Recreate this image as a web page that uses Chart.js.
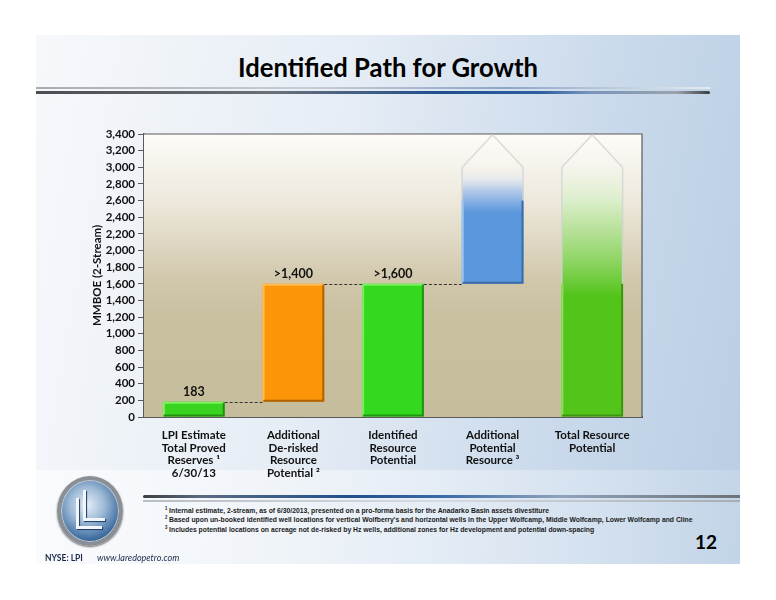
<!DOCTYPE html>
<html>
<head>
<meta charset="utf-8">
<script src="https://cdn.jsdelivr.net/npm/chart.js@4.4.1/dist/chart.umd.min.js"></script>
<style>
body{margin:0;width:776px;height:600px;background:#fff;position:relative;overflow:hidden;font-family:Lato,sans-serif}
#slide{position:absolute;left:36px;top:35px;width:704px;height:529px;background:linear-gradient(100deg,#f6f8fb 0%,#e6edf5 40%,#c9d9eb 75%,#b9cde4 100%)}
#slideLow{position:absolute;left:36px;top:470px;width:704px;height:94px;background:linear-gradient(90deg,rgba(250,251,253,0.9) 0%,rgba(236,242,248,0.6) 60%,rgba(215,228,240,0.3) 100%)}
#title{position:absolute;top:50px;left:0;width:776px;text-align:center;font:bold 27px Lato,sans-serif;color:#000}
#title span{display:inline-block;transform-origin:center}
.rule{position:absolute;height:7px}
.rule .a{position:absolute;left:0;right:0;top:0;height:2px}
.rule .b{position:absolute;left:0;right:0;top:4px;height:3px}
#ruleTop{left:36px;top:87px;width:674px}
#ruleTop .a{background:linear-gradient(90deg,#a9acb1 0%,#c8cdd3 40%,#8ea6c6 70%,#c9d5e2 90%,#e6eaee 100%)}
#ruleTop .b{background:linear-gradient(90deg,#4a4d52 0%,#6b7076 35%,#1f4f8e 60%,#2d5fa0 75%,#7895bb 82%,#9aa3ad 95%,#3c3f44 100%);border-radius:0 4px 4px 0}
#ruleBot{left:143px;top:495px;width:597px}
#ruleBot .a{top:0;height:3px;background:linear-gradient(90deg,#3c3f44 0%,#596a82 10%,#1f4f8e 35%,#3a6aa8 50%,#8fa3bb 70%,#6d7278 100%);border-radius:4px 0 0 4px}
#ruleBot .b{top:5px;height:2px;background:linear-gradient(90deg,#b9bec4 0%,#d6dbe1 50%,#a8adb3 100%)}
#wrap{position:absolute;left:36px;top:100px;width:640px;height:400px}
#notes{position:absolute;left:165px;top:506px;font:bold 8px "Liberation Sans Narrow","Liberation Sans",sans-serif;color:#1a1a1a;line-height:9.3px;white-space:nowrap;transform-origin:left top}
#notes div{height:9.3px}
#notes sup{font-size:5px;line-height:0;vertical-align:3px;margin-right:2px}
#page{position:absolute;left:695px;top:530px;font:bold 19px Lato,sans-serif;color:#000}
#nyse{position:absolute;left:45px;top:552px;font:bold 8.5px Lato,sans-serif;color:#1c2a48;white-space:nowrap}
#nyse i{font-weight:normal;margin-left:12px;font-size:9px}
#logo{position:absolute;left:57px;top:476px;width:58px;height:62px;border-radius:50%;border:4px solid #8a8f96;box-shadow:0 0 0 1px #c8ccd1 inset,0 1px 2px #666;background:radial-gradient(circle at 45% 40%,#e6eef7 0%,#9fbbd8 35%,#3f6d9f 70%,#16365e 100%);overflow:hidden}
.L{position:absolute;background:#f2f6fb;box-shadow:1px 1px 1px #1b3a66}
</style>
</head>
<body>
<div id="slide"></div>
<div id="slideLow"></div>
<div id="title"><span>Identified Path for Growth</span></div>
<div class="rule" id="ruleTop"><div class="a"></div><div class="b"></div></div>
<div class="rule" id="ruleBot"><div class="a"></div><div class="b"></div></div>
<div id="wrap"><canvas id="chart" width="640" height="400"></canvas></div>
<div id="logo">
  <div class="L" style="left:22px;top:10px;width:3px;height:30px"></div>
  <div class="L" style="left:22px;top:38px;width:22px;height:3px"></div>
  <div class="L" style="left:15px;top:18px;width:3px;height:30px"></div>
  <div class="L" style="left:15px;top:46px;width:26px;height:3px"></div>
</div>
<div id="notes">
  <div><sup>1</sup>Internal estimate, 2-stream, as of 6/30/2013, presented on a pro-forma basis for the Anadarko Basin assets divestiture</div>
  <div id="note2"><sup>2</sup>Based upon un-booked identified well locations  for vertical Wolfberry's and horizontal wells in the Upper Wolfcamp, Middle Wolfcamp, Lower Wolfcamp and Cline</div>
  <div><sup>3</sup>Includes potential locations on acreage not de-risked by Hz wells, additional  zones for Hz development and potential down-spacing</div>
</div>
<div id="page">12</div>
<div id="nyse">NYSE: LPI <i>www.laredopetro.com</i></div>

<script>
// chart data
const categories = [
    ['LPI Estimate', 'Total Proved', 'Reserves \u00b9', '6/30/13'],
    ['Additional', 'De-risked', 'Resource', 'Potential \u00b2'],
    ['Identified', 'Resource', 'Potential'],
    ['Additional', 'Potential', 'Resource \u00b3'],
    ['Total Resource', 'Potential']
]
const barBase = [0, 183, 0, 1600, 0]
const barTop = [183, 1600, 1600, 3000, 3000]
const arrowTip = [null, null, null, 3390, 3390]
const fadeSolidAt = [null, null, null, 2450, 1450]
const barLabels = ['183', '>1,400', '>1,600', '', '']
const yMax = 3400
const yStep = 200

const solidColors = ['#38d41f', '#fd9508', '#33d91f', '#5a97dc', '#52c41a']
const edgeDark = ['#229010', '#b06300', '#1f9512', '#3b6ea6', '#3d9612']
const edgeLight = ['#7ef05e', '#ffbb55', '#78ee60', '#9cc6f2', '#8ee060']
const fadeStops = [null, null, null,
    ['rgba(244,244,240,0.2)', 'rgba(226,232,240,0.7)', '#b4cbea', '#86b0e4', '#5a97dc'],
    ['rgba(242,246,234,0.5)', '#dcefcc', '#b5e096', '#8ad45e', '#52c41a']]

// title / footnotes fitted to the slide widths
const titleSpan = document.querySelector('#title span')
titleSpan.style.transform = `scaleX(${300 / titleSpan.getBoundingClientRect().width})`
const notes = document.getElementById('notes')
const n2 = document.getElementById('note2')
notes.style.transform = `scaleX(${528 / n2.scrollWidth})`

const plotBackground = {
    id: 'plotBackground',
    beforeDatasetsDraw(chart) {
        const {ctx, chartArea: a} = chart
        const g = ctx.createLinearGradient(0, a.top, 0, a.bottom)
        g.addColorStop(0, '#fdfcf8')
        g.addColorStop(0.25, '#ece7da')
        g.addColorStop(0.5, '#d2c9ae')
        g.addColorStop(0.65, '#c9c0a0')
        g.addColorStop(1, '#c6bd9c')
        ctx.save()
        ctx.fillStyle = g
        ctx.fillRect(a.left, a.top, a.right - a.left, a.bottom - a.top)
        ctx.strokeStyle = '#5a5a5a'
        ctx.lineWidth = 1.2
        ctx.beginPath()
        ctx.moveTo(a.left, a.top)
        ctx.lineTo(a.right, a.top)
        ctx.lineTo(a.right, a.bottom)
        ctx.stroke()
        ctx.restore()

        // faded fills for the open ended bars, built from the final scale
        const y = chart.scales.y
        chart.getDatasetMeta(0).data.forEach((b, i) => {
            if (!fadeStops[i]) return
            const g2 = ctx.createLinearGradient(0, y.getPixelForValue(barTop[i]), 0, y.getPixelForValue(fadeSolidAt[i]))
            fadeStops[i].forEach((c, k) => g2.addColorStop(k / (fadeStops[i].length - 1), c))
            b.options.backgroundColor = g2
        })
    }
}

const decorations = {
    id: 'decorations',
    afterDatasetsDraw(chart) {
        const ctx = chart.ctx
        const y = chart.scales.y
        const bars = chart.getDatasetMeta(0).data
        ctx.save()
        // bevel edges
        bars.forEach((b, i) => {
            const l = b.x - b.width / 2, r = b.x + b.width / 2
            const t = Math.min(b.y, b.base), bt = Math.max(b.y, b.base)
            const open = arrowTip[i] !== null
            const edgeTop = open ? y.getPixelForValue(fadeSolidAt[i] + 150) : t + 1
            ctx.lineWidth = 2
            ctx.strokeStyle = edgeLight[i]
            ctx.beginPath()
            ctx.moveTo(l + 1, bt - 1)
            ctx.lineTo(l + 1, edgeTop)
            if (!open) ctx.lineTo(r - 1, t + 1)
            ctx.stroke()
            ctx.strokeStyle = edgeDark[i]
            ctx.beginPath()
            ctx.moveTo(r - 1, edgeTop)
            ctx.lineTo(r - 1, bt - 1)
            ctx.lineTo(l + 1, bt - 1)
            ctx.stroke()
        })
        // dashed connectors
        ctx.setLineDash([3, 2])
        ctx.strokeStyle = '#333'
        ctx.lineWidth = 1
        for (let i = 0; i < 3; i++) {
            const py = Math.round(y.getPixelForValue(barTop[i])) + 0.5
            ctx.beginPath()
            ctx.moveTo(bars[i].x + bars[i].width / 2, py)
            ctx.lineTo(bars[i + 1].x - bars[i + 1].width / 2, py)
            ctx.stroke()
        }
        ctx.setLineDash([])
        // arrow heads: light fill on the head only, outline down the faded part
        bars.forEach((b, i) => {
            if (arrowTip[i] === null) return
            const l = b.x - b.width / 2, r = b.x + b.width / 2
            const yt = y.getPixelForValue(barTop[i])
            const tip = y.getPixelForValue(arrowTip[i])
            const yf = y.getPixelForValue(fadeSolidAt[i] + 150)
            ctx.beginPath()
            ctx.moveTo(l, yt)
            ctx.lineTo(b.x, tip)
            ctx.lineTo(r, yt)
            ctx.closePath()
            ctx.fillStyle = 'rgba(255,255,255,0.2)'
            ctx.fill()
            ctx.beginPath()
            ctx.moveTo(l + 0.5, yf)
            ctx.lineTo(l + 0.5, yt)
            ctx.lineTo(b.x, tip)
            ctx.lineTo(r - 0.5, yt)
            ctx.lineTo(r - 0.5, yf)
            ctx.strokeStyle = 'rgba(212,212,212,0.85)'
            ctx.lineWidth = 1.5
            ctx.stroke()
        })
        // value labels
        ctx.fillStyle = '#111'
        ctx.font = 'bold 12.5px Lato, sans-serif'
        ctx.textAlign = 'center'
        ctx.textBaseline = 'middle'
        bars.forEach((b, i) => {
            if (barLabels[i]) ctx.fillText(barLabels[i], b.x, Math.min(b.y, b.base) - 10)
        })
        ctx.restore()
    }
}

new Chart(document.getElementById('chart'), {
    type: 'bar',
    data: {
        labels: categories,
        datasets: [{
            data: barBase.map((v, i) => [v, barTop[i]]),
            backgroundColor: solidColors,
            borderWidth: 0,
            borderSkipped: false,
            barPercentage: 0.62,
            categoryPercentage: 1
        }]
    },
    options: {
        responsive: false,
        animation: false,
        layout: {padding: {left: 50, right: 34, top: 34, bottom: 0}},
        plugins: {
            legend: {display: false},
            tooltip: {enabled: false}
        },
        scales: {
            x: {
                grid: {display: false, drawTicks: false},
                border: {color: '#5a5a5a', width: 2},
                ticks: {
                    color: '#111',
                    padding: 12,
                    maxRotation: 0,
                    autoSkip: false,
                    font: {family: 'Lato', weight: 'bold', size: 11.5, lineHeight: 1.1}
                },
                afterFit(scale) { scale.height = 83 }
            },
            y: {
                min: 0,
                max: yMax,
                grid: {drawOnChartArea: false, drawTicks: true, tickLength: 6, color: '#5a5a5a'},
                border: {color: '#5a5a5a', width: 1.5},
                ticks: {
                    stepSize: yStep,
                    autoSkip: false,
                    color: '#111',
                    padding: 3,
                    font: {family: 'Lato', weight: 'bold', size: 11.5}
                },
                title: {
                    display: true,
                    text: 'MMBOE (2-Stream)',
                    color: '#111',
                    padding: {top: 4, bottom: 0},
                    font: {family: 'Lato', weight: 'bold', size: 11.5}
                },
                afterFit(scale) { scale.width = 58 }
            }
        }
    },
    plugins: [plotBackground, decorations]
})
</script>
</body>
</html>
